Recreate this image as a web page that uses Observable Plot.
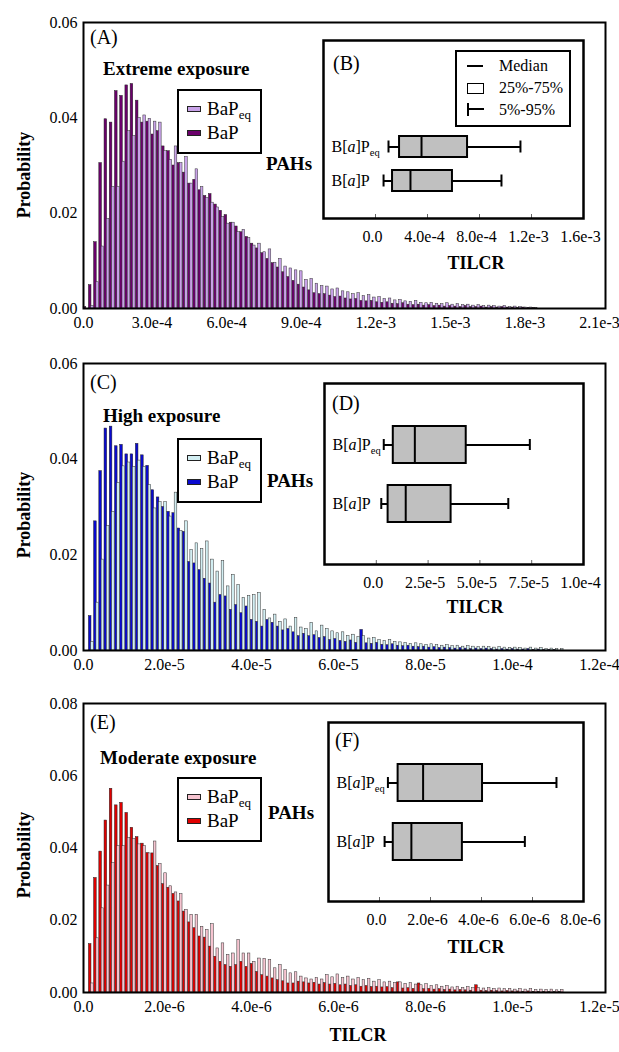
<!DOCTYPE html>
<html><head><meta charset="utf-8">
<script src="https://cdn.jsdelivr.net/npm/d3@7"></script>
<script src="https://cdn.jsdelivr.net/npm/@observablehq/plot@0.6"></script>
<style>
html,body{margin:0;padding:0;background:#fff;}
#root{position:relative;width:619px;height:1052px;overflow:hidden;font-family:'Liberation Serif','Times New Roman',serif;color:#000;}
#root svg{overflow:visible;font-family:'Liberation Serif','Times New Roman',serif !important;}
#root svg text{font-family:'Liberation Serif','Times New Roman',serif !important;}
.t{position:absolute;white-space:nowrap;line-height:1;}
.b{font-weight:bold;}
.box{position:absolute;box-sizing:border-box;border:2px solid #000;background:#fff;}
.sub{font-size:13px;position:relative;top:4px;}
</style></head>
<body><div id="root"></div>
<script>
// ---------------- data ----------------
const aBinWidth = 2.1e-5;
const cBinWidth = 1.2e-6;
const eBinWidth = 1.2e-7;

// (A) extreme exposure, probability per bin
const aBaP = [0.0003, 0.0049, 0.0139, 0.0305, 0.0397, 0.0390, 0.0456, 0.0446, 0.0468, 0.0471,
 0.0436, 0.0390, 0.0392, 0.0365, 0.0372, 0.0340, 0.0330, 0.0300, 0.0305, 0.0285,
 0.0262, 0.0270, 0.0248, 0.0236, 0.0240, 0.0218, 0.0205, 0.0196, 0.0180, 0.0172,
 0.0160, 0.0150, 0.0136, 0.0126, 0.0116, 0.0104, 0.0095, 0.0086, 0.0076, 0.0066,
 0.0058, 0.0050, 0.0044, 0.0038, 0.0032, 0.0030, 0.0030, 0.0027, 0.0024, 0.0025,
 0.0021, 0.0019, 0.0020, 0.0016, 0.0015, 0.0016, 0.0013, 0.0012, 0.0013, 0.0010,
 0.0009, 0.0011, 0.0008, 0.0007, 0.0008, 0.0006, 0.0007, 0.0005, 0.0006, 0.0004,
 0.0005, 0.0004, 0.0003, 0.0005, 0.0003, 0.0003, 0.0004, 0.0002, 0.0003, 0.0002,
 0.0003, 0.0002, 0.0002, 0.0001, 0.0002, 0.0001, 0.0001];
const aBaPeq = [0, 0.0005, 0.0055, 0.0130, 0.0188, 0.0255, 0.0255, 0.0308, 0.0372, 0.0362,
 0.0400, 0.0405, 0.0398, 0.0392, 0.0390, 0.0330, 0.0312, 0.0340, 0.0305, 0.0318,
 0.0262, 0.0292, 0.0255, 0.0232, 0.0222, 0.0212, 0.0192, 0.0178, 0.0180, 0.0160,
 0.0165, 0.0148, 0.0132, 0.0136, 0.0118, 0.0124, 0.0096, 0.0104, 0.0088, 0.0084,
 0.0080, 0.0078, 0.0060, 0.0062, 0.0052, 0.0047, 0.0046, 0.0040, 0.0042, 0.0036,
 0.0034, 0.0030, 0.0032, 0.0026, 0.0028, 0.0023, 0.0024, 0.0020, 0.0021, 0.0017,
 0.0018, 0.0015, 0.0014, 0.0016, 0.0012, 0.0011, 0.0012, 0.0010, 0.0009, 0.0011,
 0.0008, 0.0009, 0.0007, 0.0008, 0.0006, 0.0007, 0.0005, 0.0006, 0.0005, 0.0004,
 0.0005, 0.0003, 0.0004, 0.0003, 0.0002, 0.0002, 0.0001];

// (C) high exposure
const cBaP = [0, 0.0072, 0.0270, 0.0375, 0.0464, 0.0468, 0.0427, 0.0430, 0.0410, 0.0410,
 0.0432, 0.0408, 0.0386, 0.0335, 0.0320, 0.0300, 0.0290, 0.0287, 0.0255, 0.0248,
 0.0185, 0.0182, 0.0168, 0.0150, 0.0140, 0.0100, 0.0116, 0.0113, 0.0085, 0.0095,
 0.0078, 0.0092, 0.0064, 0.0060, 0.0050, 0.0064, 0.0058, 0.0050, 0.0042, 0.0045,
 0.0038, 0.0030, 0.0035, 0.0030, 0.0032, 0.0026, 0.0028, 0.0022, 0.0024, 0.0020,
 0.0018, 0.0021, 0.0016, 0.0043, 0.0015, 0.0014, 0.0016, 0.0012, 0.0011, 0.0013,
 0.0010, 0.0009, 0.0010, 0.0008, 0.0007, 0.0008, 0.0006, 0.0007, 0.0005, 0.0006,
 0.0005, 0.0004, 0.0005, 0.0004, 0.0003, 0.0004, 0.0003, 0.0004, 0.0003, 0.0002,
 0.0003, 0.0002, 0.0003, 0.0002, 0.0002, 0.0003, 0.0001, 0.0002, 0.0001, 0.0001,
 0.0001, 0];
const cBaPeq = [0, 0.0018, 0.0100, 0.0190, 0.0260, 0.0290, 0.0350, 0.0385, 0.0393, 0.0384,
 0.0397, 0.0384, 0.0346, 0.0297, 0.0310, 0.0310, 0.0280, 0.0330, 0.0250, 0.0270,
 0.0210, 0.0224, 0.0212, 0.0228, 0.0190, 0.0165, 0.0187, 0.0134, 0.0158, 0.0137,
 0.0110, 0.0114, 0.0116, 0.0120, 0.0085, 0.0067, 0.0075, 0.0060, 0.0065, 0.0050,
 0.0068, 0.0048, 0.0045, 0.0058, 0.0040, 0.0052, 0.0045, 0.0040, 0.0036, 0.0038,
 0.0030, 0.0033, 0.0028, 0.0030, 0.0025, 0.0026, 0.0022, 0.0020, 0.0022, 0.0018,
 0.0017, 0.0016, 0.0014, 0.0015, 0.0013, 0.0012, 0.0013, 0.0011, 0.0010, 0.0011,
 0.0009, 0.0010, 0.0008, 0.0009, 0.0008, 0.0007, 0.0008, 0.0007, 0.0006, 0.0007,
 0.0006, 0.0005, 0.0006, 0.0005, 0.0004, 0.0006, 0.0004, 0.0005, 0.0003, 0.0004,
 0.0003, 0.0003];

// (E) moderate exposure
const eBaP = [0, 0.0134, 0.0317, 0.0390, 0.0476, 0.0564, 0.0518, 0.0525, 0.0497, 0.0456,
 0.0430, 0.0412, 0.0386, 0.0385, 0.0350, 0.0300, 0.0290, 0.0273, 0.0252, 0.0224,
 0.0194, 0.0178, 0.0155, 0.0152, 0.0127, 0.0099, 0.0085, 0.0076, 0.0071, 0.0076,
 0.0085, 0.0071, 0.0079, 0.0057, 0.0048, 0.0044, 0.0039, 0.0034, 0.0031, 0.0025,
 0.0025, 0.0030, 0.0028, 0.0025, 0.0027, 0.0022, 0.0026, 0.0022, 0.0024, 0.0020,
 0.0022, 0.0018, 0.0020, 0.0016, 0.0018, 0.0015, 0.0016, 0.0014, 0.0015, 0.0012,
 0.0028, 0.0011, 0.0012, 0.0010, 0.0025, 0.0009, 0.0010, 0.0008, 0.0009, 0.0007,
 0.0008, 0.0006, 0.0007, 0.0006, 0.0005, 0.0020, 0.0005, 0.0004, 0.0005, 0.0004,
 0.0003, 0.0004, 0.0003, 0.0003, 0.0002, 0.0003, 0.0002, 0.0002, 0.0002, 0.0001,
 0.0001, 0.0001];
const eBaPeq = [0, 0.0025, 0.0150, 0.0233, 0.0296, 0.0358, 0.0405, 0.0405, 0.0428, 0.0425,
 0.0410, 0.0405, 0.0385, 0.0418, 0.0356, 0.0330, 0.0294, 0.0277, 0.0272, 0.0229,
 0.0215, 0.0215, 0.0182, 0.0173, 0.0189, 0.0122, 0.0136, 0.0104, 0.0108, 0.0145,
 0.0108, 0.0108, 0.0085, 0.0094, 0.0093, 0.0090, 0.0067, 0.0076, 0.0062, 0.0053,
 0.0056, 0.0044, 0.0039, 0.0036, 0.0040, 0.0036, 0.0048, 0.0042, 0.0050, 0.0040,
 0.0044, 0.0036, 0.0040, 0.0034, 0.0038, 0.0030, 0.0034, 0.0028, 0.0030, 0.0026,
 0.0028, 0.0024, 0.0026, 0.0022, 0.0020, 0.0023, 0.0018, 0.0020, 0.0016, 0.0018,
 0.0014, 0.0016, 0.0013, 0.0015, 0.0012, 0.0013, 0.0011, 0.0012, 0.0010, 0.0011,
 0.0009, 0.0010, 0.0008, 0.0009, 0.0008, 0.0009, 0.0007, 0.0008, 0.0007, 0.0008,
 0.0006, 0.0007];

// tick values and labels
const aXTicks = [0, 3e-4, 6e-4, 9e-4, 1.2e-3, 1.5e-3, 1.8e-3, 2.1e-3];
const aXTickLabels = ["0.0", "3.0e-4", "6.0e-4", "9.0e-4", "1.2e-3", "1.5e-3", "1.8e-3", "2.1e-3"];
const cXTicks = [0, 2e-5, 4e-5, 6e-5, 8e-5, 1e-4, 1.2e-4];
const cXTickLabels = ["0.0", "2.0e-5", "4.0e-5", "6.0e-5", "8.0e-5", "1.0e-4", "1.2e-4"];
const eXTicks = [0, 2e-6, 4e-6, 6e-6, 8e-6, 1e-5, 1.2e-5];
const eXTickLabels = ["0.0", "2.0e-6", "4.0e-6", "6.0e-6", "8.0e-6", "1.0e-5", "1.2e-5"];
const yTicks06 = [0, 0.02, 0.04, 0.06];
const yTickLabels06 = ["0.00", "0.02", "0.04", "0.06"];
const yTicks08 = [0, 0.02, 0.04, 0.06, 0.08];
const yTickLabels08 = ["0.00", "0.02", "0.04", "0.06", "0.08"];

// box plots (insets): percentiles 5, 25, 50, 75, 95
const boxCats = ["B[a]Peq", "B[a]P"];
const bP5 = [1.0e-4, 0.62e-4], bP25 = [1.85e-4, 1.31e-4], bP50 = [3.54e-4, 2.69e-4], bP75 = [7.08e-4, 5.92e-4], bP95 = [1.115e-3, 0.969e-3];
const dP5 = [3.6e-6, 2.4e-6], dP25 = [8.2e-6, 5.7e-6], dP50 = [18.6e-6, 14.2e-6], dP75 = [43.4e-6, 36.1e-6], dP95 = [74.1e-6, 63.7e-6];
const fP5 = [0.33e-6, 0.20e-6], fP25 = [0.73e-6, 0.54e-6], fP50 = [1.71e-6, 1.25e-6], fP75 = [4.04e-6, 3.25e-6], fP95 = [6.94e-6, 5.70e-6];
const bTicks = [0, 4e-4, 8e-4, 1.2e-3, 1.6e-3];
const bTickLabels = ["0.0", "4.0e-4", "8.0e-4", "1.2e-3", "1.6e-3"];
const dTicks = [0, 2.5e-5, 5e-5, 7.5e-5, 1e-4];
const dTickLabels = ["0.0", "2.5e-5", "5.0e-5", "7.5e-5", "1.0e-4"];
const fTicks = [0, 2e-6, 4e-6, 6e-6, 8e-6];
const fTickLabels = ["0.0", "2.0e-6", "4.0e-6", "6.0e-6", "8.0e-6"];

// ---------------- drawing ----------------
const FONT = "'Liberation Serif','Times New Roman',serif";
const root = document.getElementById("root");
function place(el, left, top) {
  el.style.position = "absolute"; el.style.left = left + "px"; el.style.top = top + "px";
  root.appendChild(el);
}
function txt(html, left, cy, size, opts = {}) {
  const d = document.createElement("div");
  d.className = "t" + (opts.bold ? " b" : "");
  d.innerHTML = html;
  d.style.fontSize = size + "px";
  d.style.left = left + "px";
  d.style.top = (cy - size * 0.5) + "px";
  if (opts.center) d.style.transform = "translateX(-50%)";
  if (opts.rotate) { d.style.top = cy + "px"; d.style.transform = "translate(-50%,-50%) rotate(-90deg)"; }
  root.appendChild(d);
  return d;
}
function boxDiv(left, top, w, h) {
  const d = document.createElement("div");
  d.className = "box";
  d.style.left = left + "px"; d.style.top = top + "px";
  d.style.width = w + "px"; d.style.height = h + "px";
  root.appendChild(d);
}
function rectDiv(left, top, w, h, style) {
  const d = document.createElement("div");
  d.style.position = "absolute";
  d.style.left = left + "px"; d.style.top = top + "px";
  d.style.width = w + "px"; d.style.height = h + "px";
  d.style.boxSizing = "border-box";
  Object.assign(d.style, style);
  root.appendChild(d);
}

function mainPanel(cfg) {
  const {bap, peq, bw, xTicks, xLabels, yTicks, yLabels, dark, light, top, frameH} = cfg;
  const mT = 22, mB = 22, mL = 83, mR = 14;
  const darkRows = bap.map((v, i) => ({x1: (i + 0.03) * bw, x2: (i + 0.53) * bw, y: v})).filter(d => d.y > 0);
  const lightRows = peq.map((v, i) => ({x1: (i + 0.47) * bw, x2: (i + 0.97) * bw, y: v})).filter(d => d.y > 0);
  const fmt = d => xLabels[xTicks.indexOf(d)];
  const svg = Plot.plot({
    width: 619, height: frameH + mT + mB,
    marginTop: mT, marginBottom: mB, marginLeft: mL, marginRight: mR,
    style: {fontFamily: FONT, fontSize: "16px", background: "transparent", color: "black", overflow: "visible"},
    x: {domain: [0, xTicks[xTicks.length - 1]]},
    y: {domain: [0, yTicks[yTicks.length - 1]]},
    marks: [
      Plot.rect(darkRows, {x1: "x1", x2: "x2", y1: 0, y2: "y", fill: dark, stroke: "#222", strokeWidth: 0.5}),
      Plot.rect(lightRows, {x1: "x1", x2: "x2", y1: 0, y2: "y", fill: light, stroke: "#333", strokeWidth: 0.5}),
      Plot.axisX({ticks: xTicks.slice(0, 1), tickFormat: fmt, tickSize: 0, tickPadding: 8, label: null}),
      Plot.axisX({ticks: xTicks.slice(1), tickFormat: fmt, tickSize: 0, tickPadding: 8, dx: -6, label: null}),
      Plot.axisY({ticks: yTicks, tickFormat: d => yLabels[yTicks.indexOf(d)], tickSize: 0, tickPadding: 6, label: null}),
      Plot.frame({stroke: "black", strokeWidth: 2})
    ]
  });
  place(svg, 0, top);
}

function fixLabels(svg) {
  const ns = "http://www.w3.org/2000/svg";
  svg.querySelectorAll("text").forEach(t => {
    const s = t.textContent;
    if (s === "B[a]Peq" || s === "B[a]P") {
      while (t.firstChild) t.removeChild(t.firstChild);
      const add = (str, attrs = {}) => {
        const ts = document.createElementNS(ns, "tspan");
        ts.textContent = str;
        for (const k in attrs) ts.setAttribute(k, attrs[k]);
        t.appendChild(ts);
      };
      add("B["); add("a", {"font-style": "italic"}); add("]P");
      if (s === "B[a]Peq") add("eq", {"font-size": "10.5", dy: "4"});
    }
  });
}

function inset(cfg) {
  const {left, top, w, h, domain, ticks, labels, p5, p25, p50, p75, p95, insetTop = 0, insetBottom = 0, cap} = cfg;
  const idx = boxCats.map((_, i) => i);
  const mL = 4, mT = 4, mR = 40, mB = 52;
  const cat = i => boxCats[i];
  const svg = Plot.plot({
    width: w + mL + mR, height: h + mT + mB,
    marginLeft: mL, marginTop: mT, marginRight: mR, marginBottom: mB,
    style: {fontFamily: FONT, fontSize: "16px", background: "transparent", color: "black", overflow: "visible"},
    x: {domain},
    y: {type: "band", domain: boxCats, paddingInner: 0.38, paddingOuter: 0.7, insetTop, insetBottom, axis: null},
    marks: [
      Plot.frame({fill: "white", stroke: "none"}),
      Plot.tickX(ticks, {x: d => d, insetTop: h - 4, stroke: "#666", strokeWidth: 1}),
      Plot.ruleY(idx, {y: cat, x1: i => p5[i], x2: i => p25[i], stroke: "black", strokeWidth: 2}),
      Plot.ruleY(idx, {y: cat, x1: i => p75[i], x2: i => p95[i], stroke: "black", strokeWidth: 2}),
      Plot.tickX(idx, {x: i => p5[i], y: cat, insetTop: cap, insetBottom: cap, stroke: "black", strokeWidth: 2}),
      Plot.tickX(idx, {x: i => p95[i], y: cat, insetTop: cap, insetBottom: cap, stroke: "black", strokeWidth: 2}),
      Plot.barX(idx, {x1: i => p25[i], x2: i => p75[i], y: cat, fill: "#C0C0C0", stroke: "black", strokeWidth: 2}),
      Plot.tickX(idx, {x: i => p50[i], y: cat, stroke: "black", strokeWidth: 2}),
      Plot.text(boxCats, {y: d => d, text: d => d, frameAnchor: "left", textAnchor: "start", dx: 8, fontSize: 16}),
      Plot.axisX({ticks, tickFormat: d => labels[ticks.indexOf(d)], tickSize: 0, tickPadding: 12, dx: -3, label: null}),
      Plot.frame({stroke: "black", strokeWidth: 2.5})
    ]
  });
  fixLabels(svg);
  place(svg, left - mL, top - mT);
}

function mainLegend(left, top, dark, light) {
  boxDiv(left, top, 85, 65);
  rectDiv(left + 10, top + 17, 14, 6, {background: light, border: "1px solid #222"});
  txt('BaP<span class="sub">eq</span>', left + 30, top + 19, 19);
  rectDiv(left + 10, top + 41, 14, 6, {background: dark, border: "1px solid #222"});
  txt('BaP', left + 30, top + 43, 19);
}

const panels = [
  {bap: aBaP, peq: aBaPeq, bw: aBinWidth, xTicks: aXTicks, xLabels: aXTickLabels, yTicks: yTicks06, yLabels: yTickLabels06,
   dark: "#6B006B", light: "#C8A2E8", top: 0, frameH: 286},
  {bap: cBaP, peq: cBaPeq, bw: cBinWidth, xTicks: cXTicks, xLabels: cXTickLabels, yTicks: yTicks06, yLabels: yTickLabels06,
   dark: "#0A0AD0", light: "#D2EEF2", top: 341, frameH: 287},
  {bap: eBaP, peq: eBaPeq, bw: eBinWidth, xTicks: eXTicks, xLabels: eXTickLabels, yTicks: yTicks08, yLabels: yTickLabels08,
   dark: "#E00000", light: "#F6C4D0", top: 681, frameH: 289}
];
panels.forEach(mainPanel);

inset({left: 323, top: 40, w: 260, h: 178, domain: [-4e-4, 1.6e-3], ticks: bTicks, labels: bTickLabels,
  p5: bP5, p25: bP25, p50: bP50, p75: bP75, p95: bP95, insetTop: 72, insetBottom: 3, cap: 4.5});
inset({left: 324, top: 383, w: 259, h: 181, domain: [-2.5e-5, 1e-4], ticks: dTicks, labels: dTickLabels,
  p5: dP5, p25: dP25, p50: dP50, p75: dP75, p95: dP95, cap: 13});
inset({left: 328, top: 722, w: 255, h: 179, domain: [-2e-6, 8e-6], ticks: fTicks, labels: fTickLabels,
  p5: fP5, p25: fP25, p50: fP50, p75: fP75, p95: fP95, cap: 13});

// annotations
txt("(A)", 90, 37, 20); txt("(C)", 90, 382, 20); txt("(E)", 90, 722, 20);
txt("(B)", 333, 63, 20); txt("(D)", 332, 403, 20); txt("(F)", 335, 740, 20);
txt("Extreme exposure", 103, 68, 19, {bold: true});
txt("High exposure", 103, 415, 19, {bold: true});
txt("Moderate exposure", 100, 757, 19, {bold: true});
txt("PAHs", 289, 163, 19, {bold: true, center: true});
txt("PAHs", 290, 480, 19, {bold: true, center: true});
txt("PAHs", 291, 812, 19, {bold: true, center: true});
txt("Probability", 24, 175, 18, {bold: true, rotate: true});
txt("Probability", 24, 515, 18, {bold: true, rotate: true});
txt("Probability", 24, 855, 18, {bold: true, rotate: true});
txt("TILCR", 476, 263, 18, {bold: true, center: true});
txt("TILCR", 475, 607, 18, {bold: true, center: true});
txt("TILCR", 476, 947, 18, {bold: true, center: true});
txt("TILCR", 358, 1035, 18, {bold: true, center: true});

mainLegend(177, 89, panels[0].dark, panels[0].light);
mainLegend(177, 438, panels[1].dark, panels[1].light);
mainLegend(177, 777, panels[2].dark, panels[2].light);

// inset (B) key
boxDiv(455, 50, 116, 77);
rectDiv(467, 65, 16, 2, {background: "#000"});
rectDiv(467, 83, 17, 11, {background: "#fff", border: "1.5px solid #000"});
rectDiv(467, 103, 2, 13, {background: "#000"});
rectDiv(467, 108, 17, 2, {background: "#000"});
txt("Median", 499, 66, 16);
txt("25%-75%", 499, 88, 16);
txt("5%-95%", 499, 110, 16);
</script></body></html>
